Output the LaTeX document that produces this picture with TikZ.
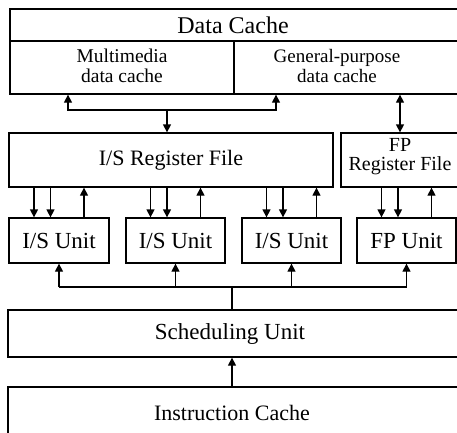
\documentclass[tikz,border=0pt]{standalone}
\usepackage{fontspec}
\setmainfont{Liberation Serif}
\usetikzlibrary{arrows.meta}
\begin{document}
\begin{tikzpicture}[x=1pt,y=-1pt,
  line width=1.3pt,
  box/.style={draw, rectangle, inner sep=0pt, line width=1.3pt},
  txt/.style={inner sep=0pt, align=center},
  tip/.style={-{Triangle[length=8pt,width=8pt]}},
  both/.style={{Triangle[length=8pt,width=8pt]}-{Triangle[length=8pt,width=8pt]}},
  plain/.style={line width=1.3pt}]
\useasboundingbox (0,0) rectangle (457,432);

% data cache: title strip and its two halves
\node[box, minimum width=452pt, minimum height=32pt] (dc) at (236,25) {};
\node[box, minimum width=224pt, minimum height=53pt] (mm) at (122,67.5) {};
\node[box, minimum width=228pt, minimum height=53pt] (gp) at (348,67.5) {};
\node[txt, font=\fontsize{24}{24}\selectfont] (dct) at (233,25) {Data Cache};
\node[txt, font=\fontsize{19.5}{20.5}\selectfont] (mmt) at (122,66) {Multimedia\\data cache};
\node[txt, font=\fontsize{19}{20.5}\selectfont] (gpt) at (337,66) {General-purpose\\data cache};

% register files
\node[box, minimum width=324pt, minimum height=54pt] (isrf) at (171,160) {};
\node[txt, font=\fontsize{22}{22}\selectfont] (isrft) at (171,160) {I/S Register File};
\node[box, minimum width=121pt, minimum height=54pt] (fprf) at (401.5,160) {};
\node[txt, font=\fontsize{20}{19}\selectfont] (fprft) at (400,157) {FP\\Register File};

% execution units
\foreach \n/\x/\w/\t in {u1/59/100/I\slash S Unit, u2/175.5/99/I\slash S Unit,
                         u3/291.5/99/I\slash S Unit, u4/406.5/99/FP Unit}{
  \node[box, minimum width=\w pt, minimum height=45pt] (\n) at (\x,240.5) {};
  \node[txt, font=\fontsize{23}{23}\selectfont] (\n t) at (\x,240.5) {\t};
}

% scheduling unit and instruction cache
\node[box, minimum width=454pt, minimum height=47pt] (sched) at (235,333.5) {};
\node[txt, font=\fontsize{23}{23}\selectfont] (schedt) at (230,333.5) {Scheduling Unit};
\node[box, minimum width=454pt, minimum height=53pt] (ic) at (235,413.5) {};
\node[txt, font=\fontsize{22}{22}\selectfont] (ict) at (232,413) {Instruction Cache};

% data cache <-> I/S register file
\coordinate (dbus) at (167,110);
\draw[both] (mm.south -| 68,0) |- (dbus) -| (gp.south -| 276,0);
\draw[tip] (dbus) -- (dbus |- isrf.north);
% data cache <-> FP register file
\draw[both] (gp.south -| 400,0) -- (fprf.north -| 400,0);

% register files <-> units: two operand reads, one result write
\foreach \u/\f in {u1/isrf, u2/isrf, u3/isrf, u4/fprf}{
  \draw[tip] ([xshift=-25pt]\u.north |- \f.south) -- ([xshift=-25pt]\u.north);
  \draw[tip] ([xshift=-8.5pt]\u.north |- \f.south) -- ([xshift=-8.5pt]\u.north);
  \draw[tip] ([xshift=25pt]\u.north) -- ([xshift=25pt]\u.north |- \f.south);
}

% scheduling unit -> units
\coordinate (ubus) at (232,287);
\draw[plain] (u1.south |- ubus) -- (u4.south |- ubus);
\foreach \u in {u1,u2,u3,u4}{
  \draw[tip] (\u.south |- ubus) -- (\u.south);
}
\draw[plain] (ubus) -- (ubus |- sched.north);

% instruction cache -> scheduling unit
\draw[tip] (ic.north -| ubus) -- (sched.south -| ubus);
\end{tikzpicture}
\end{document}
